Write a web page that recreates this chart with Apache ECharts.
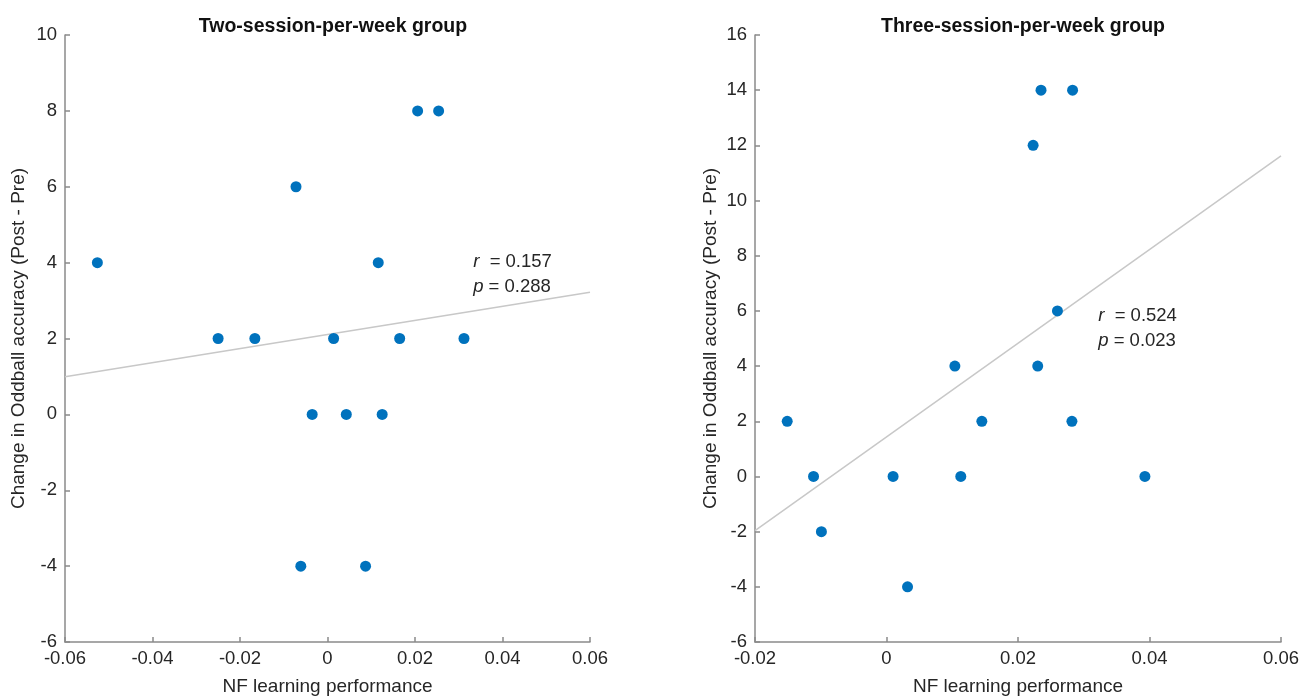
<!DOCTYPE html>
<html>
<head>
<meta charset="UTF-8">
<title>NF learning vs Oddball accuracy</title>
<script src="https://cdn.jsdelivr.net/npm/echarts@6/dist/echarts.min.js"></script>
<style>
  html, body { margin: 0; padding: 0; background: #fff; }
  #main { width: 1312px; height: 699px; }
</style>
</head>
<body>
<div id="main"></div>
<script>
// 两组数据：每周两次 / 每周三次
var twoX = [-0.0526, -0.025, -0.0166, -0.0072, 0.0014, 0.0116, 0.0165, 0.0206, 0.0254, 0.0312, -0.0035, 0.0043, 0.0125, -0.0061, 0.0087];
var twoY = [4, 2, 2, 6, 2, 4, 2, 8, 8, 2, 0, 0, 0, -4, -4];
var twoFit = [[-0.06, 0.99], [0.06, 3.22]];
var twoStats = ['0.157', '0.288'];

var threeX = [0.0235, 0.0283, 0.0223, 0.0260, 0.0104, 0.0230, -0.0151, 0.0145, 0.0282, -0.0111, 0.0010, 0.0113, 0.0393, -0.0099, 0.0032];
var threeY = [14, 14, 12, 6, 4, 4, 2, 2, 2, 0, 0, 0, 0, -2, -4];
var threeFit = [[-0.02, -1.96], [0.06, 11.62]];
var threeStats = ['0.524', '0.023'];

var titles = ['Two-session-per-week group', 'Three-session-per-week group'];
var xName = 'NF learning performance';
var yName = 'Change in Oddball accuracy (Post - Pre)';

function pairs(xs, ys) {
    var out = [];
    for (var i = 0; i < xs.length; i++) out.push([xs[i], ys[i]]);
    return out;
}

var font = '"Liberation Sans", Arial, Helvetica, sans-serif';
var axisColor = '#8a8a8a';
var textColor = '#262626';

function xAxisCfg(grid, min, max) {
    return {
        type: 'value', gridIndex: grid, min: min, max: max, interval: 0.02,
        name: xName, nameLocation: 'middle', nameGap: 35,
        nameTextStyle: { fontFamily: font, fontSize: 19, color: textColor },
        axisLine: { onZero: false, lineStyle: { color: axisColor, width: 1.5 } },
        axisTick: { inside: true, length: 5, lineStyle: { color: axisColor, width: 1.5 } },
        axisLabel: {
            fontFamily: font, fontSize: 18.5, color: textColor, margin: 7,
            formatter: function (v) { return String(+v.toFixed(2)); }
        },
        splitLine: { show: false }
    };
}
function yAxisCfg(grid, min, max, gap) {
    return {
        type: 'value', gridIndex: grid, min: min, max: max, interval: 2,
        name: yName, nameLocation: 'middle', nameGap: gap,
        nameTextStyle: { fontFamily: font, fontSize: 19, color: textColor },
        axisLine: { onZero: false, lineStyle: { color: axisColor, width: 1.5 } },
        axisTick: { inside: true, length: 5, lineStyle: { color: axisColor, width: 1.5 } },
        axisLabel: { fontFamily: font, fontSize: 18.5, color: textColor, margin: 8 },
        splitLine: { show: false }
    };
}
function fitSeries(idx, data) {
    return {
        type: 'line', xAxisIndex: idx, yAxisIndex: idx, data: data,
        showSymbol: false, silent: true, z: 1,
        lineStyle: { color: '#c8c8c8', width: 1.5 }
    };
}
function dotSeries(idx, data) {
    return {
        type: 'scatter', xAxisIndex: idx, yAxisIndex: idx, data: data,
        symbolSize: 11, z: 3,
        itemStyle: { color: '#0072BD', opacity: 1 }
    };
}

var myChart = echarts.init(document.getElementById('main'));

var option = {
    animation: false,
    title: [
        { text: titles[0], left: 328, top: 12, textAlign: 'center',
          textStyle: { fontFamily: font, fontSize: 19.5, fontWeight: 'bold', color: '#111' } },
        { text: titles[1], left: 1018, top: 12, textAlign: 'center',
          textStyle: { fontFamily: font, fontSize: 19.5, fontWeight: 'bold', color: '#111' } }
    ],
    grid: [
        { left: 65, right: 722, top: 35, bottom: 57, containLabel: false, outerBoundsMode: 'none' },
        { left: 755, right: 31, top: 35, bottom: 57, containLabel: false, outerBoundsMode: 'none' }
    ],
    xAxis: [xAxisCfg(0, -0.06, 0.06), xAxisCfg(1, -0.02, 0.06)],
    yAxis: [yAxisCfg(0, -6, 10, 37), yAxisCfg(1, -6, 16, 35)],
    series: [
        fitSeries(0, twoFit),
        dotSeries(0, pairs(twoX, twoY)),
        fitSeries(1, threeFit),
        dotSeries(1, pairs(threeX, threeY))
    ]
};
myChart.setOption(option);

// r / p 标注，位置用数据坐标换算
function statText(grid, at, stats) {
    var pt = myChart.convertToPixel({ gridIndex: grid }, at);
    return {
        type: 'text', x: pt[0], y: pt[1],
        style: {
            text: '{i|r}  = ' + stats[0] + '\n{i|p} = ' + stats[1],
            fontFamily: font, fontSize: 18.5, fill: textColor, lineHeight: 25,
            verticalAlign: 'middle',
            rich: { i: { fontStyle: 'italic', fontFamily: font, fontSize: 18.5, fill: textColor } }
        }
    };
}
myChart.setOption({
    graphic: [
        statText(0, [0.0333, 3.68], twoStats),
        statText(1, [0.0322, 5.35], threeStats)
    ]
});
</script>
</body>
</html>
